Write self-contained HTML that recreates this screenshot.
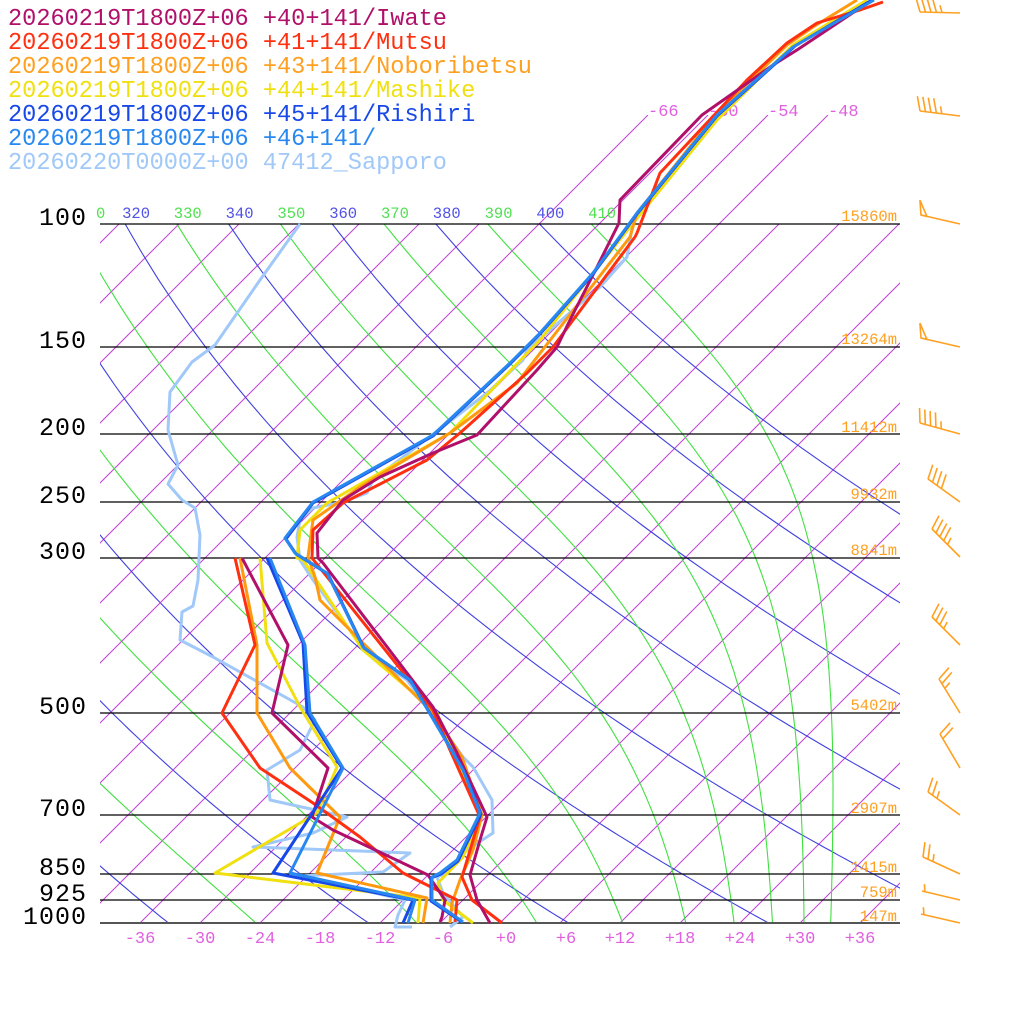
<!DOCTYPE html>
<html><head><meta charset="utf-8"><style>
html,body{margin:0;padding:0;background:#fff}
svg{display:block}
text{font-family:"Liberation Mono","DejaVu Sans Mono",monospace}
</style></head><body>
<svg id="s" width="1024" height="1024" viewBox="0 0 1024 1024" xmlns="http://www.w3.org/2000/svg">
<defs>
<clipPath id="pc"><rect x="100" y="224" width="800" height="699"/></clipPath>
<clipPath id="pc2"><rect x="100" y="115" width="800" height="808"/></clipPath>
<clipPath id="lc"><rect x="98" y="190" width="802" height="40"/></clipPath>
</defs>
<g id="grid"></g>
<g id="plines" stroke="#000" stroke-width="1.2">
<line x1="100" y1="224" x2="900" y2="224"/>
<line x1="100" y1="347" x2="900" y2="347"/>
<line x1="100" y1="434" x2="900" y2="434"/>
<line x1="100" y1="502" x2="900" y2="502"/>
<line x1="100" y1="558" x2="900" y2="558"/>
<line x1="100" y1="713" x2="900" y2="713"/>
<line x1="100" y1="815" x2="900" y2="815"/>
<line x1="100" y1="874" x2="900" y2="874"/>
<line x1="100" y1="900" x2="900" y2="900"/>
<line x1="100" y1="923" x2="900" y2="923" stroke="#555" stroke-width="2"/>
</g>
<g font-size="25" fill="#000" text-anchor="end" letter-spacing="1">
<text x="87" y="225">100</text>
<text x="87" y="348">150</text>
<text x="87" y="435">200</text>
<text x="87" y="503">250</text>
<text x="87" y="559">300</text>
<text x="87" y="714">500</text>
<text x="87" y="816">700</text>
<text x="87" y="875">850</text>
<text x="87" y="901">925</text>
<text x="87" y="924">1000</text>
</g>
<g font-size="15.5" fill="#ffa020" text-anchor="end">
<text x="897" y="221">15860m</text>
<text x="897" y="344">13264m</text>
<text x="897" y="432">11412m</text>
<text x="897" y="499">9932m</text>
<text x="897" y="555">8841m</text>
<text x="897" y="710">5402m</text>
<text x="897" y="813">2907m</text>
<text x="897" y="872">1415m</text>
<text x="897" y="897">759m</text>
<text x="897" y="921">147m</text>
</g>
<g font-size="17" fill="#e060e0" text-anchor="middle">
<text x="140" y="943">-36</text><text x="200" y="943">-30</text><text x="260" y="943">-24</text>
<text x="320" y="943">-18</text><text x="380" y="943">-12</text><text x="443" y="943">-6</text>
<text x="506" y="943">+0</text><text x="566" y="943">+6</text><text x="620" y="943">+12</text>
<text x="680" y="943">+18</text><text x="740" y="943">+24</text><text x="800" y="943">+30</text>
<text x="860" y="943">+36</text>
</g>
<g font-size="17" fill="#e060e0">
<text x="648" y="116">-66</text><text x="708" y="116">-60</text><text x="768" y="116">-54</text><text x="828" y="116">-48</text>
</g>
<text x="96" y="218" font-size="15.5" fill="#50e050">0</text>
<g id="barbs" stroke="#ffa020" stroke-width="1.6" fill="none"></g>
<g id="snd" fill="none" stroke-width="3" stroke-linejoin="round"></g>
<g font-size="23.6">
<text x="8" y="25" fill="#b0106a">20260219T1800Z+06 +40+141/Iwate</text>
<text x="8" y="49" fill="#ff3010">20260219T1800Z+06 +41+141/Mutsu</text>
<text x="8" y="73" fill="#ffa020">20260219T1800Z+06 +43+141/Noboribetsu</text>
<text x="8" y="97" fill="#f0e010">20260219T1800Z+06 +44+141/Mashike</text>
<text x="8" y="121" fill="#1848e8">20260219T1800Z+06 +45+141/Rishiri</text>
<text x="8" y="145" fill="#2888f0">20260219T1800Z+06 +46+141/</text>
<text x="8" y="169" fill="#a0c8f8">20260220T0000Z+00 47412_Sapporo</text>
</g>
</svg>
<script>
(function(){
var NS="http://www.w3.org/2000/svg";
function el(tag,attrs,parent,txt){var e=document.createElementNS(NS,tag);for(var k in attrs)e.setAttribute(k,attrs[k]);if(txt!=null)e.textContent=txt;parent.appendChild(e);return e;}
var K=303.6;
function Y(p){return 923-K*Math.log(1000/p);}
function X(Tc,p){return 500+10*Tc+(923-Y(p));}
var grid=document.getElementById('grid');
var g1=el('g',{'clip-path':'url(#pc)'},grid);
var g2=el('g',{'clip-path':'url(#pc2)'},grid);
for(var T=-150;T<=60;T+=6){
  var top=(T>=-66&&T<=-48)?115:224;
  var par=(top==115)?g2:g1;
  var y1=923,x1=500+10*T;
  var y2=top,x2=500+10*T+(923-y2);
  el('line',{x1:x1,y1:y1,x2:x2,y2:y2,stroke:'#c040d8','stroke-width':1},par);
}
for(var th=200;th<=400;th+=20){
  var d='';
  for(var i=0;i<=90;i++){var p=100+i*10;var Tk=th*Math.pow(p/1000,0.2857);d+=(i?'L':'M')+X(Tk-273.15,p).toFixed(1)+','+Y(p).toFixed(1);}
  el('path',{d:d,stroke:'#4040e0','stroke-width':1.1,fill:'none'},g1);
}
function es(Tc){return 6.112*Math.exp(17.67*Tc/(Tc+243.5));}
function dTdlnp(T,p){var e=es(T-273.15);var rs=0.622*e/Math.max(p-e,1);var Lv=2.5e6,Rd=287,cp=1004;
  return (Rd*T+Lv*rs)/(cp+Lv*Lv*rs*0.622/(Rd*T*T));}
for(var te=230;te<=410;te+=20){
  var p=100,T=te*Math.pow(0.1,0.2857),d='M'+X(T-273.15,p).toFixed(1)+','+Y(p).toFixed(1);
  var n=300,h=Math.log(10)/n,lp=Math.log(100);
  for(var i=0;i<n;i++){
    var pp=Math.exp(lp);var k1=dTdlnp(T,pp);var k2=dTdlnp(T+h*k1/2,Math.exp(lp+h/2));
    T+=h*k2;lp+=h;
    if(i%6==5)d+='L'+X(T-273.15,Math.exp(lp)).toFixed(1)+','+Y(Math.exp(lp)).toFixed(1);
  }
  el('path',{d:d,stroke:'#40e040','stroke-width':1.1,fill:'none'},g1);
}
var lg=el('g',{'clip-path':'url(#lc)','font-size':'15.5'},grid);
for(var th=320;th<=410;th+=10){
  var Tk=th*Math.pow(0.1,0.2857);var x=X(Tk-273.15,100);
  var col=(th%20==0)?'#5050e8':'#50e050';
  el('text',{x:(x-3).toFixed(1),y:218,fill:col},lg,String(th));
}
var bg=document.getElementById('barbs');
function barb(ox,oy,sx,sy,pen,full,half){
  el('line',{x1:ox,y1:oy,x2:sx,y2:sy},bg);
  var dx=sx-ox,dy=sy-oy,L=Math.hypot(dx,dy),ux=dx/L,uy=dy/L;
  var nx=uy,ny=-ux;
  var bl=15,ang=0.3,pos=0;
  var vx=bl*(nx*Math.cos(ang)-ux*Math.sin(ang)),vy=bl*(ny*Math.cos(ang)-uy*Math.sin(ang));
  for(var i=0;i<pen;i++){
    var bx=ox+ux*pos,by=oy+uy*pos;
    el('polyline',{points:[bx+vx,by+vy,bx,by,bx+ux*6,by+uy*6,bx+vx,by+vy].join(' ')},bg);pos+=8;
  }
  for(var i=0;i<full;i++){var bx=ox+ux*pos,by=oy+uy*pos;el('line',{x1:bx,y1:by,x2:bx+vx,y2:by+vy},bg);pos+=5.5;}
  if(half){if(pos==0)pos=3;var bx=ox+ux*pos,by=oy+uy*pos;el('line',{x1:bx,y1:by,x2:bx+vx/2,y2:by+vy/2},bg);}
}
barb(920,12,960,13,0,4,1);
barb(920,111,960,116,0,4,1);
barb(921,215,960,224,1,0,0);
barb(921,338,960,347,1,0,0);
barb(920,423,960,434,0,4,1);
barb(928,479,960,502,0,4,0);
barb(932,529,960,557,0,4,1);
barb(932,617,960,645,0,3,1);
barb(939,679,960,713,0,2,1);
barb(940,734,960,768,0,2,0);
barb(928,792,960,815,0,2,1);
barb(923,857,960,874,0,2,1);
barb(922,891,960,900,0,0,1);
barb(921,914,960,923,0,0,1);
var sg=document.getElementById('snd');
function line(pts,col,w){el('polyline',{points:pts,stroke:col,'stroke-width':w||3},sg);}
line("633,223 627,257 600,287 573,310 527,350 523,360 487,393 373,480 367,493 343,502 313,508 300,520 297,537 300,560 313,580 367,653 407,680 463,757 473,767 492,800 493,833 467,850 447,873 437,877 443,893 463,917 450,927","#a0c8f8");
line("300,224 260,280 215,345 192,362 170,392 168,430 178,465 168,484 182,500 195,508 200,535 198,580 193,606 182,612 180,640 213,657 303,707 315,720 300,750 267,770 270,800 347,817 313,833 253,847 410,853 383,872 300,876 405,900 398,915 395,927 412,927","#a0c8f8");
line("867,0 793,45 717,120 630,227 540,340 450,433 327,503 300,530 297,558 303,560 363,650 437,713 480,817 463,857 438,883 443,900 473,923","#f0e010");
line("260,558 267,643 300,707 337,767 317,813 215,873 420,898 418,923","#f0e010");
line("857,0 813,27 787,45 717,113 637,213 630,237 517,383 450,433 360,487 313,520 308,557 315,577 320,600 433,713 462,757 482,815 473,850 460,880 452,903 450,923","#ff9a10");
line("240,558 257,645 257,713 290,768 340,817 317,873 427,898 423,923","#ff9a10");
line("883,2 860,10 817,23 787,43 747,80 660,173 637,233 635,237 553,347 527,373 460,433 427,460 343,503 313,530 312,558 433,710 450,750 480,817 462,877 472,900 502,923","#ff3010");
line("235,558 255,645 222,713 260,768 313,803 360,837 403,873 457,900 455,922","#ff3010");
line("857,10 797,50 773,65 702,115 620,200 619,223 597,267 570,320 557,347 537,370 477,435 433,453 380,477 343,500 317,533 318,558 323,563 433,707 457,753 487,817 480,840 470,875 477,900 490,923","#b0106a");
line("242,558 288,645 272,713 328,768 312,817 333,830 428,875 445,900 442,917 440,922","#b0106a");
line("872,0 795,46 717,116 637,214 593,274 540,334 510,364 433,436 313,503 286,539 296,554 328,574 364,648 411,681 464,771 481,814 458,861 441,874 431,878 431,901 462,922","#1848e8");
line("267,558 303,643 307,712 342,768 273,873 413,900 403,923","#1848e8");
line("874,0 793,47 717,115 637,213 593,273 540,333 510,363 433,435 313,502 285,538 295,553 327,573 363,647 410,680 463,770 480,813 457,860 440,873 432,877 432,900 463,922","#2888f0");
line("270,558 305,645 310,713 343,768 290,873 415,900 408,923","#2888f0");
})();
</script>
</body></html>
